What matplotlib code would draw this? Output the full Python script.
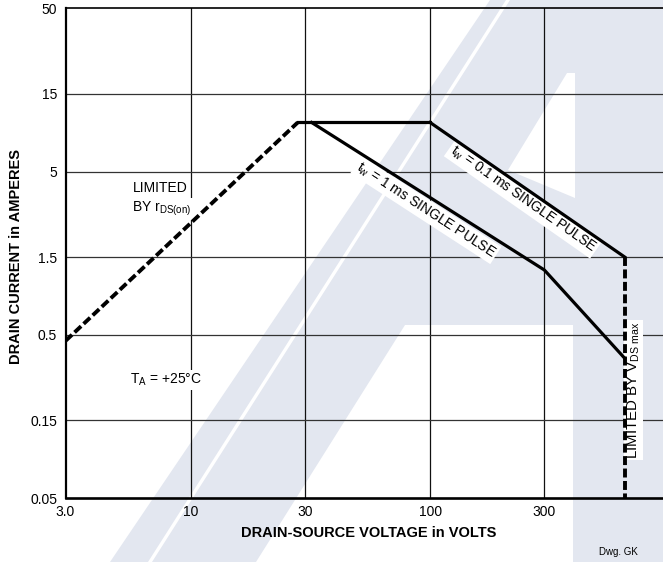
import matplotlib
matplotlib.use("Agg")
import matplotlib.pyplot as plt
from matplotlib.patches import Polygon

plt.rcParams['font.family'] = ['Liberation Sans', 'DejaVu Sans']
plt.rcParams['mathtext.fontset'] = 'custom'
plt.rcParams['mathtext.rm'] = 'Liberation Sans'

# data
x_ticks = [3, 10, 30, 100, 300]
x_labels = ['3.0', '10', '30', '100', '300']
y_ticks = [0.05, 0.15, 0.5, 1.5, 5, 15, 50]
y_labels = ['0.05', '0.15', '0.5', '1.5', '5', '15', '50']

rds_v = [3, 28]
rds_i = [0.46, 10]
flat_v = [28, 100]
flat_i = [10, 10]
pulse_1ms_v = [32, 300, 650]
pulse_1ms_i = [10, 1.25, 0.36]
pulse_01ms_v = [100, 650]
pulse_01ms_i = [10, 1.5]
vds_v = [650, 650]
vds_i = [1.5, 0.05]

W, H = 663, 562
fig = plt.figure(figsize=(W / 100, H / 100), dpi=100)
fig.patch.set_facecolor('white')


def px(x, y):
    return (x / W, 1 - y / H)


def add_shape(pts, color, z):
    fig.patches.append(Polygon([px(*p) for p in pts], closed=True, fc=color, ec='none',
                               transform=fig.transFigure, zorder=z))


# faint logo watermark behind the chart
wm = '#e3e7f0'
add_shape([(110, 562), (490, 0), (663, 0), (663, 562), (573, 562),
           (573, 325), (405, 325), (256, 562)], wm, -5)
add_shape([(148, 562), (506, 0), (510, 0), (152, 562)], 'white', -4)
add_shape([(567, 73), (575, 73), (575, 198), (508, 170)], 'white', -4)

left, right, top, bottom = 65.5, 669.5, 8.3, 498.3
ax = fig.add_axes([left / W, 1 - bottom / H, (right - left) / W, (bottom - top) / H])
ax.set_facecolor('none')
ax.set_xscale('log')
ax.set_yscale('log')
ax.set_xlim(3, 1000)
ax.set_ylim(0.05, 50)

ax.set_xticks(x_ticks)
ax.set_xticklabels(x_labels)
ax.set_yticks(y_ticks)
ax.set_yticklabels(y_labels)
ax.minorticks_off()
ax.tick_params(axis='x', length=0, pad=5, labelsize=10)
ax.tick_params(axis='y', length=0, pad=6, labelsize=10)

for v in x_ticks[1:]:
    ax.axvline(v, color='#111111', lw=0.9, zorder=1)
for v in y_ticks[1:-1]:
    ax.axhline(v, color='#333333', lw=0.9, zorder=1)

ax.spines['right'].set_visible(False)
ax.spines['top'].set_linewidth(1.2)
ax.spines['left'].set_linewidth(1.6)
ax.spines['bottom'].set_linewidth(1.9)

dash_kw = dict(color='black', lw=2.8, dashes=(2.3, 0.9), dash_capstyle='butt', zorder=4)
solid_kw = dict(color='black', lw=2.3, solid_joinstyle='miter', zorder=4)
ax.plot(rds_v, rds_i, **dash_kw)
ax.plot(flat_v, flat_i, **solid_kw)
ax.plot(pulse_1ms_v, pulse_1ms_i, **solid_kw)
ax.plot(pulse_01ms_v, pulse_01ms_i, **solid_kw)
ax.plot(vds_v, vds_i, **dash_kw)

box = dict(facecolor='white', edgecolor='none', pad=1.5)
ax.text(5.71, 3.97, 'LIMITED', fontsize=10, ha='left', va='center', bbox=box, zorder=3)
ax.text(5.71, 2.95, r'BY r$_\mathregular{DS(on)}$', fontsize=10, ha='left', va='center',
        bbox=box, zorder=3)
ax.text(5.56, 0.265, r'T$_\mathregular{A}$ = +25°C', fontsize=10, ha='left', va='center',
        bbox=box, zorder=3)
ax.text(96, 2.91, r't$_\mathregular{w}$ = 1 ms SINGLE PULSE', fontsize=10, rotation=-33,
        rotation_mode='anchor', ha='center', va='center', bbox=box, zorder=3)
ax.text(244, 3.40, r't$_\mathregular{w}$ = 0.1 ms SINGLE PULSE', fontsize=10, rotation=-35,
        rotation_mode='anchor', ha='center', va='center', bbox=box, zorder=3)
ax.text(706, 0.23, r'LIMITED BY V$_\mathregular{DS\ max}$', fontsize=10.8, rotation=90,
        ha='center', va='center', bbox=dict(facecolor='white', edgecolor='none', pad=1.0),
        zorder=3)

fig.text(*px(368.5, 533), 'DRAIN-SOURCE VOLTAGE in VOLTS', fontsize=10.5, fontweight='bold',
         ha='center', va='center')
fig.text(*px(16, 257), 'DRAIN CURRENT in AMPERES', fontsize=10.5, fontweight='bold',
         rotation=90, ha='center', va='center')
fig.text(*px(618, 552), 'Dwg. GK', fontsize=7, ha='center', va='center')

fig.savefig('out.png', dpi=100)
